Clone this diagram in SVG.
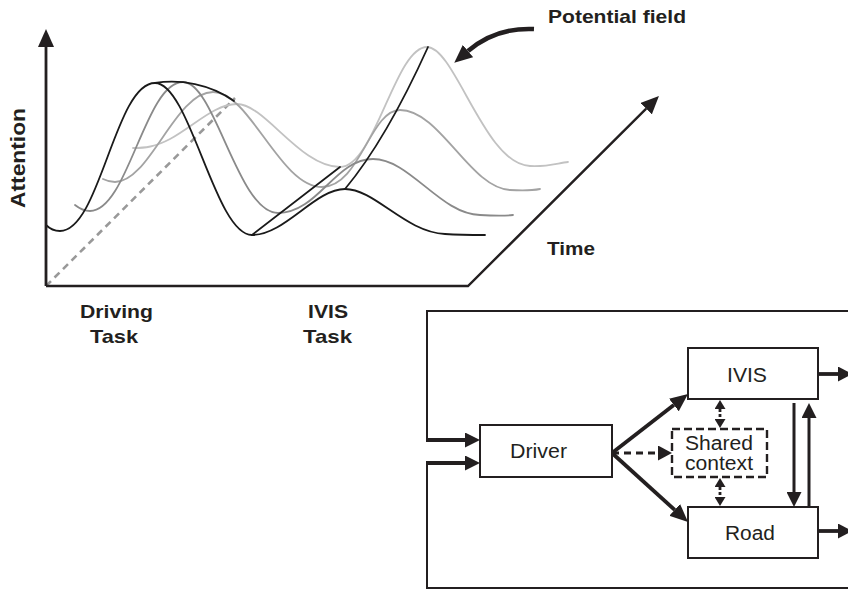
<svg xmlns="http://www.w3.org/2000/svg" width="848" height="590" viewBox="0 0 848 590">
<style>
.lbl{font-family:"Liberation Sans",Arial,Helvetica,sans-serif;font-weight:bold;font-size:19px;fill:#231f20}
.box{font-family:"Liberation Sans",Arial,Helvetica,sans-serif;font-size:19.5px;fill:#231f20}
.node{fill:#fff;stroke:#231f20;stroke-width:2}
.dashnode{fill:#fff;stroke:#231f20;stroke-width:2.4;stroke-dasharray:8,4}
.crv{fill:none;stroke-width:1.8;stroke-linecap:round;stroke-linejoin:round}
.thick{fill:none;stroke:#231f20;stroke-width:3.8}
.thin{fill:none;stroke:#231f20;stroke-width:2}
</style>
<defs>
<marker id="ah" viewBox="0 0 10 10" refX="0" refY="5" markerUnits="userSpaceOnUse" markerWidth="15" markerHeight="15" orient="auto"><path d="M0,0 L10,5 L0,10 z" fill="#231f20"/></marker>
<marker id="ahL" viewBox="0 0 10 10" refX="0" refY="5" markerUnits="userSpaceOnUse" markerWidth="18" markerHeight="16" orient="auto" preserveAspectRatio="none"><path d="M0,0 L10,5 L0,10 z" fill="#231f20"/></marker>
<marker id="ahS" viewBox="0 0 10 10" refX="0" refY="5" markerUnits="userSpaceOnUse" markerWidth="9" markerHeight="11" orient="auto-start-reverse" preserveAspectRatio="none"><path d="M0,0 L10,5 L0,10 z" fill="#231f20"/></marker>
<marker id="ahO" viewBox="0 0 10 10" refX="0" refY="5" markerUnits="userSpaceOnUse" markerWidth="14" markerHeight="15" orient="auto" preserveAspectRatio="none"><path d="M0,0 L10,5 L0,10 z" fill="#231f20"/></marker>
</defs>

<!-- chart -->
<g id="chart">
  <line x1="46" y1="286" x2="235" y2="98" stroke="#999" stroke-width="2.6" stroke-dasharray="7,5"/>
  <path class="crv" stroke="#c2c2c2" d="M133,148 C145,148 155,147 170,139 C195,125 215,104 237,104 C265,104 300,167 340,167 C375,167 395,47 427,47 C455,47 485,165 530,166 C548,167 558,163 568,162"/>
  <path class="crv" stroke="#a3a3a3" d="M103,179 C107,181 111,182 115,182 C150,182 175,92 213,92 C250,92 280,187 322,187 C360,187 370,110 400,110 C440,110 470,188 510,190 C525,191 535,190 540,189"/>
  <path class="crv" stroke="#8a8a8a" d="M75,205 C80,209 85,211 90,211 C128,211 145,82 183,82 C215,82 238,213 278,213 C318,213 335,159 373,159 C410,159 440,214 480,215 C495,216 505,216 513,215"/>
  <path class="crv" stroke="#1a1a1a" d="M46,225 C50,229 54,231 60,231 C100,231 115,83 155,83 C190,83 215,235 252,235 C285,235 315,189 345,189 C375,189 405,232 445,234 C460,235 475,235 485,235"/>
  <path class="crv" stroke="#1a1a1a" d="M155,83 C180,79 210,84 234,101"/>
  <path class="crv" stroke="#1a1a1a" d="M252,235 L340,167"/>
  <path class="crv" stroke="#1a1a1a" d="M345,189 C365,165 395,120 428,47"/>
  <line x1="46" y1="286" x2="46" y2="47" stroke="#231f20" stroke-width="2.8" marker-end="url(#ahL)"/>
  <polyline points="46,286 468,286 646.2,108.7" fill="none" stroke="#231f20" stroke-width="2.4" marker-end="url(#ahL)"/>
  <path d="M534,29 C512,28 488,34 468,51" fill="none" stroke="#231f20" stroke-width="4.5" marker-end="url(#ahL)"/>
  <text class="lbl" x="548" y="23" textLength="138" lengthAdjust="spacingAndGlyphs">Potential field</text>
  <text class="lbl" style="font-size:21px" text-anchor="middle" transform="translate(25,158) rotate(-90)" textLength="100" lengthAdjust="spacingAndGlyphs">Attention</text>
  <text class="lbl" x="547" y="255" textLength="48" lengthAdjust="spacingAndGlyphs">Time</text>
  <text class="lbl" x="80" y="318" textLength="73" lengthAdjust="spacingAndGlyphs">Driving</text>
  <text class="lbl" x="90" y="343" textLength="48" lengthAdjust="spacingAndGlyphs">Task</text>
  <text class="lbl" x="308" y="318" textLength="40" lengthAdjust="spacingAndGlyphs">IVIS</text>
  <text class="lbl" x="303" y="343" textLength="49" lengthAdjust="spacingAndGlyphs">Task</text>
</g>

<!-- connectors -->
<g id="connectors">
  <path class="thin" d="M848,311 H427 V440"/>
  <line class="thick" x1="426" y1="440" x2="465" y2="440" marker-end="url(#ah)"/>
  <path class="thin" d="M848,588 H427 V463"/>
  <line class="thick" x1="426" y1="463" x2="465" y2="463" marker-end="url(#ah)"/>
  <line class="thick" x1="612" y1="453" x2="673.8" y2="405" marker-end="url(#ahL)"/>
  <line class="thick" x1="612" y1="453" x2="674.7" y2="509.9" marker-end="url(#ahL)"/>
  <line x1="612" y1="453" x2="658" y2="453" stroke="#231f20" stroke-width="3" stroke-dasharray="7,5" marker-end="url(#ahO)"/>
  <line x1="720" y1="409" x2="720" y2="419" stroke="#231f20" stroke-width="2.8" stroke-dasharray="3,2" marker-start="url(#ahS)" marker-end="url(#ahS)"/>
  <line x1="720" y1="487" x2="720" y2="497" stroke="#231f20" stroke-width="2.8" stroke-dasharray="3,2" marker-start="url(#ahS)" marker-end="url(#ahS)"/>
  <line x1="794" y1="403" x2="794" y2="492" stroke="#231f20" stroke-width="3" marker-end="url(#ah)"/>
  <line x1="809" y1="508" x2="809" y2="418" stroke="#231f20" stroke-width="3" marker-end="url(#ah)"/>
  <line class="thick" x1="818" y1="374" x2="838" y2="374" marker-end="url(#ahO)"/>
  <line class="thick" x1="818" y1="531" x2="838" y2="531" marker-end="url(#ahO)"/>
</g>

<!-- nodes -->
<g id="driver">
  <rect class="node" x="480" y="425" width="132" height="52"/>
  <text class="box" x="510" y="458" textLength="57" lengthAdjust="spacingAndGlyphs">Driver</text>
</g>
<g id="ivis">
  <rect class="node" x="688" y="348" width="130" height="51"/>
  <text class="box" x="727" y="382" textLength="40" lengthAdjust="spacingAndGlyphs">IVIS</text>
</g>
<g id="road">
  <rect class="node" x="688" y="507" width="130" height="51"/>
  <text class="box" x="725" y="540" textLength="50" lengthAdjust="spacingAndGlyphs">Road</text>
</g>
<g id="shared">
  <rect class="dashnode" x="672" y="429" width="95" height="48"/>
  <text class="box" x="685" y="450" textLength="68" lengthAdjust="spacingAndGlyphs">Shared</text>
  <text class="box" x="685" y="470" textLength="68" lengthAdjust="spacingAndGlyphs">context</text>
</g>
</svg>
